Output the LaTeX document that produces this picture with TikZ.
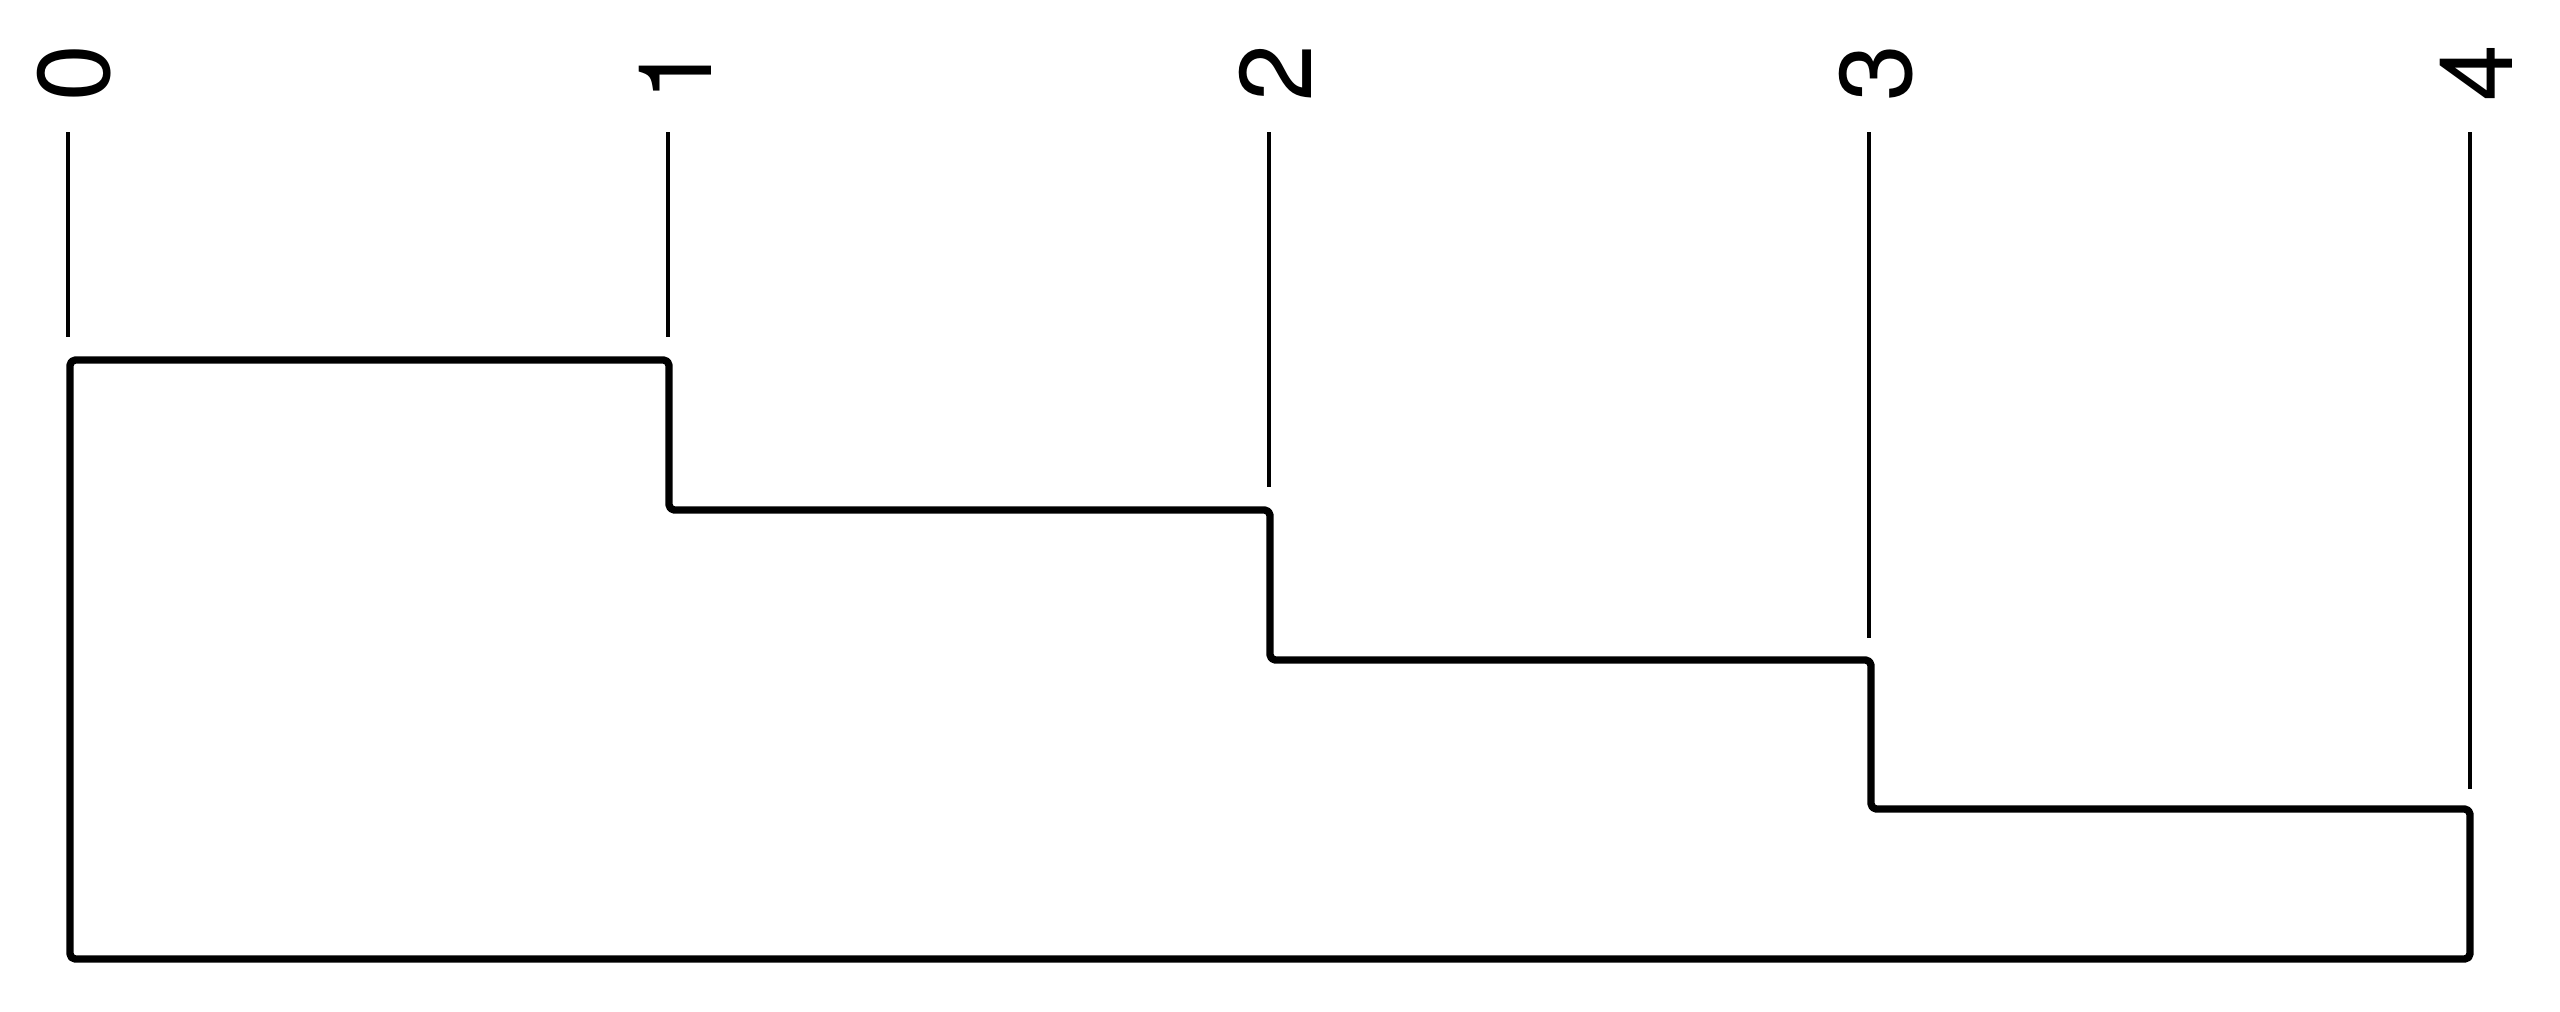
\documentclass[tikz,border=0pt]{standalone}
\usepackage{fontspec}
\setmainfont{TeX Gyre Heros}
\begin{document}
\begin{tikzpicture}[x=0.01cm,y=-0.01cm,
  lbl/.style={inner sep=0pt,outer sep=0pt,rotate=90,font=\fontsize{29}{32}\selectfont},
  tick/.style={line width=0.9pt,black},
  stair/.style={line width=2.1pt,black,rounded corners=1.5pt,line join=round}]
\useasboundingbox (0,0) rectangle (2560,1011);
% labels
\node[lbl] (l0) at (74,73) {0};
\node[lbl] (l1) at (675,73) {1};
\node[lbl] (l2) at (1275,73) {2};
\node[lbl] (l3) at (1876,73) {3};
\node[lbl] (l4) at (2476,73) {4};
% tick coordinates
\coordinate (t0) at (68,132);  \coordinate (b0) at (68,337);
\coordinate (t1) at (668,132); \coordinate (b1) at (668,337);
\coordinate (t2) at (1269,132); \coordinate (b2) at (1269,487);
\coordinate (t3) at (1869,132); \coordinate (b3) at (1869,638);
\coordinate (t4) at (2470,132); \coordinate (b4) at (2470,789);
\foreach \i in {0,...,4} { \draw[tick] (t\i) -- (b\i); }
% staircase corners
\coordinate (s0) at (70,360);
\coordinate (s1) at (669,360);
\coordinate (s2) at (669,510);
\coordinate (s3) at (1270,510);
\coordinate (s4) at (1270,660);
\coordinate (s5) at (1871,660);
\coordinate (s6) at (1871,809);
\coordinate (s7) at (2470,809);
\coordinate (s8) at (2470,959);
\coordinate (s9) at (70,959);
\draw[stair] (s0) -- (s1) -- (s2) -- (s3) -- (s4) -- (s5) -- (s6) -- (s7) -- (s8) -- (s9) -- cycle;
\end{tikzpicture}
\end{document}
